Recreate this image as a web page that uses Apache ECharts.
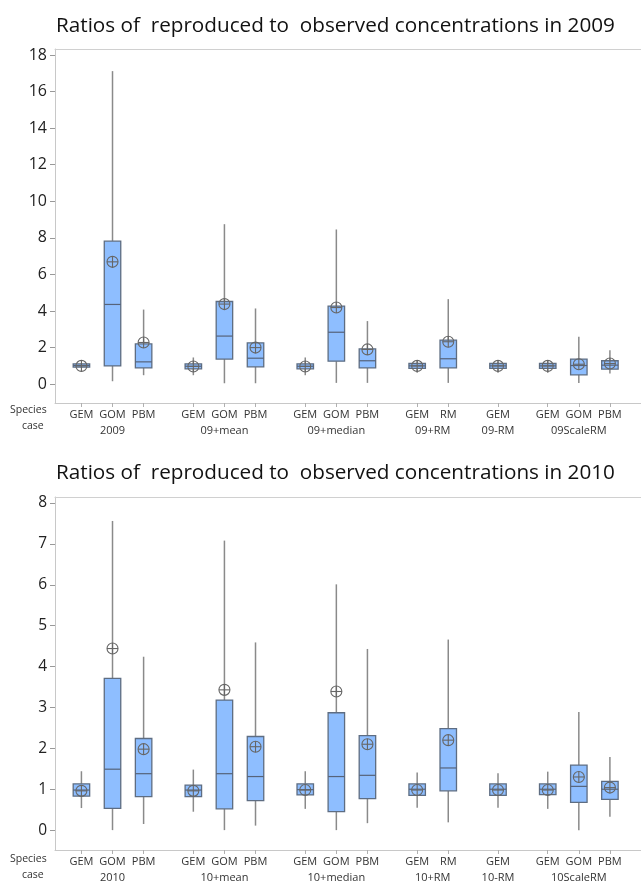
<!DOCTYPE html>
<html>
<head>
<meta charset="utf-8">
<script src="https://cdn.jsdelivr.net/npm/echarts@6/dist/echarts.min.js"></script>
<style>
html,body{margin:0;padding:0;background:#fff;}
#chart{width:641px;height:883px;}
</style>
</head>
<body>
<div id="chart"></div>
<script>
// ---------- data ----------
const caseNames2009 = ['2009', '09+mean', '09+median', '09+RM', '09-RM', '09ScaleRM'];
const caseNames2010 = ['2010', '10+mean', '10+median', '10+RM', '10-RM', '10ScaleRM'];
const caseSpecies = [
  ['GEM', 'GOM', 'PBM'],
  ['GEM', 'GOM', 'PBM'],
  ['GEM', 'GOM', 'PBM'],
  ['GEM', 'RM'],
  ['GEM'],
  ['GEM', 'GOM', 'PBM']
];

// 2009: one value per box, in order of caseSpecies
const min2009  = [0.88, 0.16, 0.49, 0.49, 0.05, 0.05, 0.49, 0.07, 0.07, 0.62, 0.07, 0.62, 0.62, 0.07, 0.58];
const q1_2009  = [0.93, 1.00, 0.89, 0.84, 1.37, 0.95, 0.84, 1.26, 0.89, 0.86, 0.89, 0.86, 0.86, 0.51, 0.82];
const med2009  = [1.02, 4.36, 1.22, 0.98, 2.63, 1.42, 0.98, 2.84, 1.28, 1.00, 1.39, 1.00, 1.00, 1.02, 1.04];
const q3_2009  = [1.11, 7.82, 2.20, 1.11, 4.52, 2.26, 1.11, 4.27, 1.93, 1.13, 2.41, 1.13, 1.13, 1.37, 1.28];
const max2009  = [1.15, 17.12, 4.08, 1.46, 8.75, 4.14, 1.46, 8.46, 3.45, 1.31, 4.65, 1.26, 1.31, 2.59, 1.86];
const mean2009 = [1.00, 6.69, 2.28, 0.97, 4.38, 2.00, 0.97, 4.19, 1.90, 1.00, 2.32, 1.00, 1.00, 1.09, 1.13];

// 2010
const min2010  = [0.54, 0.00, 0.15, 0.45, 0.00, 0.11, 0.52, 0.00, 0.17, 0.55, 0.19, 0.55, 0.52, 0.00, 0.33];
const q1_2010  = [0.83, 0.53, 0.82, 0.82, 0.52, 0.72, 0.86, 0.45, 0.77, 0.85, 0.96, 0.85, 0.87, 0.68, 0.75];
const med2010  = [0.98, 1.49, 1.38, 0.98, 1.38, 1.31, 0.99, 1.31, 1.34, 1.00, 1.52, 1.00, 1.00, 1.07, 1.00];
const q3_2010  = [1.13, 3.71, 2.24, 1.10, 3.18, 2.29, 1.13, 2.87, 2.31, 1.13, 2.48, 1.13, 1.13, 1.59, 1.19];
const max2010  = [1.44, 7.56, 4.24, 1.48, 7.08, 4.59, 1.44, 6.01, 4.43, 1.41, 4.66, 1.39, 1.43, 2.89, 1.79];
const mean2010 = [0.96, 4.44, 1.98, 0.96, 3.43, 2.04, 0.98, 3.39, 2.10, 0.98, 2.20, 0.98, 0.98, 1.30, 1.04];

const yTicks2009 = [0, 2, 4, 6, 8, 10, 12, 14, 16, 18];
const yTicks2010 = [0, 1, 2, 3, 4, 5, 6, 7, 8];

const title2009 = 'Ratios of  reproduced to  observed concentrations in 2009';
const title2010 = 'Ratios of  reproduced to  observed concentrations in 2010';

// ---------- layout helpers ----------
const GROUP_GAP = 0.6;
function layoutPositions() {
  const pos = [], labels = [], centers = [];
  let x = 0;
  caseSpecies.forEach((g) => {
    const start = x;
    g.forEach(s => { pos.push(x); labels.push(s); x += 1; });
    centers.push((start + x - 1) / 2);
    x += GROUP_GAP;
  });
  return { pos, labels, centers };
}
const L = layoutPositions();

function findLabel(v, arr, names) {
  for (let i = 0; i < arr.length; i++) if (Math.abs(arr[i] - v) < 1e-6) return names[i];
  return '';
}

function buildData(mn, q1, md, q3, mx, mean) {
  return L.pos.map((p, i) => [p, mn[i], q1[i], md[i], q3[i], mx[i], mean[i]]);
}

const FONT = '"Open Sans", "Noto Sans", sans-serif';
const XMIN = -0.85, XMAX = 18;

function renderBox(params, api) {
  const x = api.value(0);
  const pMin = api.coord([x, api.value(1)]);
  const pQ1 = api.coord([x, api.value(2)]);
  const pMed = api.coord([x, api.value(3)]);
  const pQ3 = api.coord([x, api.value(4)]);
  const pMax = api.coord([x, api.value(5)]);
  const pMean = api.coord([x, api.value(6)]);
  const w = api.size([0.53, 0])[0];
  const cx = pQ1[0];
  const r = 5.5;
  const whisk = { stroke: '#8a8a8a', lineWidth: 1.5 };
  return {
    type: 'group',
    children: [
      { type: 'line', shape: { x1: cx, y1: pMin[1], x2: cx, y2: pQ1[1] }, style: whisk },
      { type: 'line', shape: { x1: cx, y1: pQ3[1], x2: cx, y2: pMax[1] }, style: whisk },
      { type: 'rect', shape: { x: cx - w / 2, y: pQ3[1], width: w, height: pQ1[1] - pQ3[1] },
        style: { fill: '#8ebeff', stroke: '#5e6d82', lineWidth: 1.3 } },
      { type: 'line', shape: { x1: cx - w / 2, y1: pMed[1], x2: cx + w / 2, y2: pMed[1] },
        style: { stroke: '#56637a', lineWidth: 1.2 } },
      { type: 'circle', shape: { cx: cx, cy: pMean[1], r: r },
        style: { fill: 'none', stroke: '#666', lineWidth: 1.1 } },
      { type: 'line', shape: { x1: cx - r, y1: pMean[1], x2: cx + r, y2: pMean[1] },
        style: { stroke: '#666', lineWidth: 1.1 } },
      { type: 'line', shape: { x1: cx, y1: pMean[1] - r, x2: cx, y2: pMean[1] + r },
        style: { stroke: '#666', lineWidth: 1.1 } }
    ]
  };
}

function xAxes(gridIndex, caseNames) {
  return [
    {
      type: 'value', gridIndex: gridIndex, min: XMIN, max: XMAX, position: 'bottom',
      axisLine: { show: true, onZero: false, lineStyle: { color: '#c8c8c8', width: 1 } },
      axisTick: { show: true, customValues: L.pos, length: 4, lineStyle: { color: '#b0b0b0' } },
      axisLabel: { show: true, customValues: L.pos, margin: 6, color: '#333', fontSize: 11, fontFamily: FONT,
        formatter: v => findLabel(v, L.pos, L.labels) },
      splitLine: { show: false }
    },
    {
      type: 'value', gridIndex: gridIndex, min: XMIN, max: XMAX, position: 'bottom', offset: 16,
      axisLine: { show: false, onZero: false }, axisTick: { show: false },
      axisLabel: { show: true, customValues: L.centers, margin: 6, color: '#333', fontSize: 11, fontFamily: FONT,
        formatter: v => findLabel(v, L.centers, caseNames) },
      splitLine: { show: false }
    },
    {
      // top frame line of the plot box
      type: 'value', gridIndex: gridIndex, min: XMIN, max: XMAX, position: 'top',
      axisLine: { show: true, onZero: false, lineStyle: { color: '#d0d0d0', width: 1 } },
      axisTick: { show: false }, axisLabel: { show: false }, splitLine: { show: false }
    }
  ];
}

function yAxis(gridIndex, min, max, ticks, fs) {
  return {
    type: 'value', gridIndex: gridIndex, min: min, max: max, position: 'left',
    axisLine: { show: true, onZero: false, lineStyle: { color: '#c8c8c8' } },
    axisTick: { show: true, customValues: ticks, length: 5, lineStyle: { color: '#999' } },
    axisLabel: { show: true, customValues: ticks, margin: 8, color: '#222', fontSize: fs, fontFamily: FONT },
    splitLine: { show: false }
  };
}

const chart = echarts.init(document.getElementById('chart'), null, { renderer: 'canvas' });
const option = {
  animation: false,
  backgroundColor: '#fff',
  title: [
    { text: title2009, left: 51, top: 11, textStyle: { fontSize: 20.7, fontWeight: 'normal', color: '#111', fontFamily: FONT } },
    { text: title2010, left: 51, top: 458, textStyle: { fontSize: 20.7, fontWeight: 'normal', color: '#111', fontFamily: FONT } }
  ],
  grid: [
    { left: 55, width: 595, top: 49, bottom: 480, show: false },
    { left: 55, width: 595, top: 497, bottom: 31, show: false }
  ],
  xAxis: [].concat(xAxes(0, caseNames2009), xAxes(1, caseNames2010)),
  yAxis: [
    yAxis(0, -1.03, 18.33, yTicks2009, 16),
    yAxis(1, -0.486, 8.146, yTicks2010, 15.5)
  ],
  graphic: [
    { type: 'text', left: 10, top: 405, style: { text: 'Species', fill: '#333', font: '10.5px ' + FONT } },
    { type: 'text', left: 22, top: 421, style: { text: 'case', fill: '#333', font: '10.5px ' + FONT } },
    { type: 'text', left: 10, top: 854, style: { text: 'Species', fill: '#333', font: '10.5px ' + FONT } },
    { type: 'text', left: 22, top: 870, style: { text: 'case', fill: '#333', font: '10.5px ' + FONT } }
  ],
  series: [
    { type: 'custom', xAxisIndex: 0, yAxisIndex: 0, renderItem: renderBox, clip: false,
      encode: { x: 0, y: [1, 2, 3, 4, 5, 6] },
      data: buildData(min2009, q1_2009, med2009, q3_2009, max2009, mean2009) },
    { type: 'custom', xAxisIndex: 3, yAxisIndex: 1, renderItem: renderBox, clip: false,
      encode: { x: 0, y: [1, 2, 3, 4, 5, 6] },
      data: buildData(min2010, q1_2010, med2010, q3_2010, max2010, mean2010) }
  ]
};
chart.setOption(option);
</script>
</body>
</html>
